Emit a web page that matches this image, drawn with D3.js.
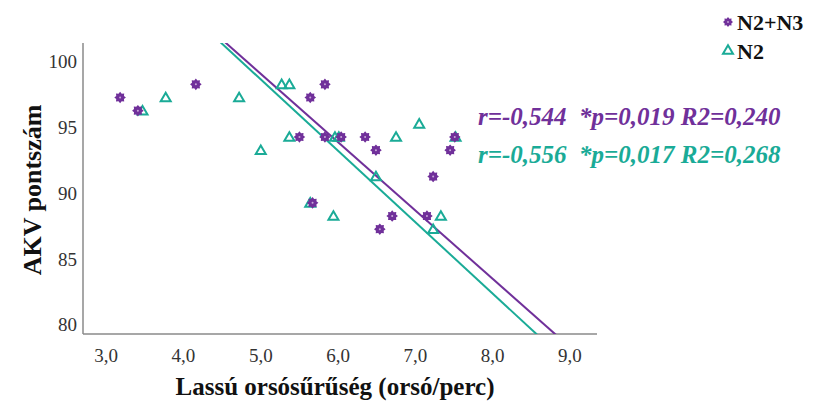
<!DOCTYPE html>
<html><head><meta charset="utf-8">
<script src="https://cdn.jsdelivr.net/npm/d3@7"></script>
<style>
@font-face{font-family:"SerifX";src:local("Liberation Serif"),local("LiberationSerif"),local("Tinos"),local("Times New Roman");font-weight:normal;font-style:normal}
@font-face{font-family:"SerifX";src:local("Liberation Serif Bold"),local("LiberationSerif-Bold"),local("Tinos Bold");font-weight:bold;font-style:normal}
@font-face{font-family:"SerifX";src:local("Liberation Serif Bold Italic"),local("LiberationSerif-BoldItalic"),local("Tinos Bold Italic");font-weight:bold;font-style:italic}
</style>
</head><body style="margin:0">
<svg id="c" width="836" height="405" font-family="Liberation Serif"></svg>
<script>
const xTicks = [3,4,5,6,7,8,9];
const yTicks = [80,85,90,95,100];
const seriesNames = ["N2+N3","N2"];
const colors = ["#70309a","#1aab97"];
// N2+N3 (stars)
const n23X = [3.18,3.41,4.16,5.64,5.83,5.50,5.83,6.04,6.35,6.49,7.51,7.45,7.23,5.67,6.70,7.15,6.54];
const n23Y = [97,96,98,97,98,94,94,94,94,93,94,93,91,89,88,88,87];
// N2 (triangles)
const n2X = [3.47,3.77,4.72,5.00,5.27,5.37,5.37,5.96,6.01,6.75,7.05,7.52,6.49,5.64,5.94,7.33,7.23];
const n2Y = [96,97,97,93,98,98,94,94,94,94,95,94,91,89,88,88,87];
// regression lines: intercept, slope
const fitA = [124.75,125.47];
const fitB = [-5.19,-5.42];
const statTexts = ["r=-0,544  *p=0,019 R2=0,240","r=-0,556  *p=0,017 R2=0,268"];

const FF = '"Liberation Serif", SerifX, Tinos, "Times New Roman", FreeSerif';
const svg = d3.select("#c");
const L=83, R=597, T=43, B=334;
const x = d3.scaleLinear().domain([2.70,9.35]).range([L,R]);
const y = d3.scaleLinear().domain([79.04,101.14]).range([B,T]);

// axes
svg.append("line").attr("x1",L).attr("x2",L).attr("y1",T).attr("y2",B).attr("stroke","#8a8a8a").attr("stroke-width",1.5);
svg.append("line").attr("x1",L).attr("x2",R).attr("y1",B).attr("y2",B).attr("stroke","#8a8a8a").attr("stroke-width",1.5);

const fmt = v => d3.format(".1f")(v).replace(".",",");
svg.selectAll(".xt").data(xTicks).join("text")
  .style("font-family",FF).style("font-size","19px")
  .attr("x",d=>x(d)).attr("y",362).attr("text-anchor","middle").attr("fill","#333").text(fmt);
svg.selectAll(".yt").data(yTicks).join("text")
  .style("font-family",FF).style("font-size","19px")
  .attr("x",L-6).attr("y",d=>y(d)+10).attr("text-anchor","end").attr("fill","#333").text(d=>d);

// titles
svg.append("text").style("font-family",FF).style("font-size","25px").style("font-weight","bold")
  .attr("x",335).attr("y",395).attr("text-anchor","middle").attr("fill","#111")
  .text("Lassú orsósűrűség (orsó/perc)");
svg.append("text").style("font-family",FF).style("font-size","26px").style("font-weight","bold")
  .attr("transform","translate(41,190) rotate(-90)").attr("text-anchor","middle").attr("fill","#111")
  .text("AKV pontszám");

// clip
svg.append("clipPath").attr("id","pc").append("rect").attr("x",L).attr("y",T).attr("width",R-L).attr("height",B-T);

// regression lines
const g = svg.append("g").attr("clip-path","url(#pc)");
[0,1].forEach(i=>{
  const x0=2.7, x1=9.35;
  g.append("line").attr("x1",x(x0)).attr("y1",y(fitA[i]+fitB[i]*x0))
   .attr("x2",x(x1)).attr("y2",y(fitA[i]+fitB[i]*x1))
   .attr("stroke",colors[i]).attr("stroke-width",2);
});

// star glyph
function starPath(r){
  const pts=[]; const n=8;
  for(let k=0;k<n*2;k++){
    const a=Math.PI*k/n; const rr = k%2===0? r : r*0.72;
    pts.push([rr*Math.cos(a), rr*Math.sin(a)]);
  }
  return "M"+pts.map(p=>p.join(",")).join("L")+"Z";
}
const tri = "M0,-4.8L5,3.8L-5,3.8Z";

// N2 triangles
svg.append("g").selectAll("path").data(d3.range(n2X.length)).join("path")
  .attr("transform",i=>`translate(${x(n2X[i])},${y(n2Y[i])})`)
  .attr("d",tri).attr("fill","none").attr("stroke",colors[1]).attr("stroke-width",2);
// N2+N3 stars
const sg = svg.append("g");
sg.selectAll("path").data(d3.range(n23X.length)).join("path")
  .attr("transform",i=>`translate(${x(n23X[i])},${y(n23Y[i])})`)
  .attr("d",starPath(5.8)).attr("fill",colors[0]);
sg.selectAll("circle").data(d3.range(n23X.length)).join("circle")
  .attr("cx",i=>x(n23X[i])).attr("cy",i=>y(n23Y[i])).attr("r",1).attr("fill","#c9a9d9");

// legend
const lg = svg.append("g");
lg.append("path").attr("transform","translate(728,22)").attr("d",starPath(5)).attr("fill",colors[0]);
lg.append("circle").attr("cx",728).attr("cy",22).attr("r",0.9).attr("fill","#c9a9d9");
lg.append("path").attr("transform","translate(728,50)").attr("d",tri).attr("fill","none").attr("stroke",colors[1]).attr("stroke-width",2);
lg.selectAll("text").data(seriesNames).join("text")
  .style("font-family",FF).style("font-size","22px").style("font-weight","bold")
  .attr("x",737).attr("y",(d,i)=>i===0?30:59).attr("fill","#111").text(d=>d);

// stats
svg.selectAll(".st").data(statTexts).join("text")
  .style("font-family",FF).style("font-size","25px").style("font-weight","bold").style("font-style","italic")
  .style("white-space","pre")
  .attr("x",478).attr("y",(d,i)=>i===0?125:163).attr("fill",(d,i)=>colors[i])
  .text(d=>d);
</script>
</body></html>
